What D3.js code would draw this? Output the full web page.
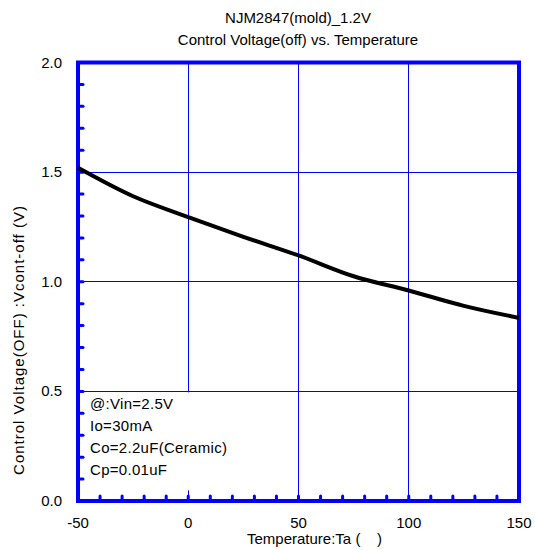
<!DOCTYPE html>
<html>
<head>
<meta charset="utf-8">
<script src="https://cdn.jsdelivr.net/npm/d3@7"></script>
<style>
body{margin:0;background:#fff;}
text{font-family:"Liberation Sans",Arial,sans-serif;fill:#000;}
</style>
</head>
<body>
<svg id="chart" width="535" height="550"></svg>
<script>
const titleLines = ["NJM2847(mold)_1.2V", "Control Voltage(off) vs. Temperature"];
const xLabel = "Temperature:Ta (    )";
const yLabel = "Control Voltage(OFF) :Vcont-off (V)";
const temperature = [-50, -25, 0, 25, 50, 75, 100, 125, 150];
const vcontOff = [1.52, 1.39, 1.295, 1.205, 1.12, 1.025, 0.96, 0.89, 0.835];
const xTicks = [-50, 0, 50, 100, 150];
const yTicks = [0.0, 0.5, 1.0, 1.5, 2.0];
const noteLines = ["@:Vin=2.5V", "Io=30mA", "Co=2.2uF(Ceramic)", "Cp=0.01uF"];

const svg = d3.select("#chart");
const L = 78, R = 519, T = 62.5, B = 501;
const x = d3.scaleLinear().domain([-50, 150]).range([L, R]);
const y = d3.scaleLinear().domain([0, 2]).range([B, T]);
const blue = "#0000ff";
const fs = 15;

// grid lines
svg.append("g").selectAll("line").data(xTicks.slice(1, -1)).join("line")
  .attr("x1", d => x(d)).attr("x2", d => x(d)).attr("y1", T).attr("y2", B)
  .attr("stroke", blue).attr("stroke-width", 1).attr("shape-rendering", "crispEdges");
svg.append("g").selectAll("line").data(yTicks.slice(1, -1)).join("line")
  .attr("x1", L).attr("x2", R).attr("y1", d => y(d)).attr("y2", d => y(d))
  .attr("stroke", blue).attr("stroke-width", 1).attr("shape-rendering", "crispEdges");

// note box (white, covers grid)
svg.append("rect").attr("x", L).attr("y", y(0.5) + 1).attr("width", 159).attr("height", 98).attr("fill", "#fff");
svg.append("g").selectAll("text").data(noteLines).join("text")
  .attr("x", 90).attr("y", (d, i) => y(0.5) + 18 + i * 21.8)
  .attr("font-size", fs).attr("letter-spacing", 0.3).text(d => d);

// minor ticks
const xMinor = d3.range(-40, 150, 10);
const yMinor = d3.range(0.1, 2.0, 0.1);
svg.append("g").selectAll("line").data(xMinor).join("line")
  .attr("x1", d => x(d)).attr("x2", d => x(d)).attr("y1", B).attr("y2", B - 5)
  .attr("stroke", blue).attr("stroke-width", 3).attr("stroke-linecap", "round");
svg.append("g").selectAll("line").data(yMinor).join("line")
  .attr("x1", L).attr("x2", L + 5).attr("y1", d => y(d)).attr("y2", d => y(d))
  .attr("stroke", blue).attr("stroke-width", 3).attr("stroke-linecap", "round");

// frame
svg.append("rect").attr("x", L).attr("y", T).attr("width", R - L).attr("height", B - T)
  .attr("fill", "none").attr("stroke", blue).attr("stroke-width", 4);

// data line
const line = d3.line().x((d, i) => x(temperature[i])).y(d => y(d)).curve(d3.curveMonotoneX);
svg.append("path").datum(vcontOff).attr("d", line)
  .attr("fill", "none").attr("stroke", "#000").attr("stroke-width", 4).attr("stroke-linejoin", "round");

// axes labels
svg.append("g").selectAll("text").data(xTicks).join("text")
  .attr("x", d => x(d)).attr("y", B + 27).attr("text-anchor", "middle")
  .attr("font-size", fs).text(d => d);
svg.append("g").selectAll("text").data(yTicks).join("text")
  .attr("x", 62).attr("y", d => y(d) + 5).attr("text-anchor", "end")
  .attr("font-size", fs).text(d => d.toFixed(1));

svg.append("text").attr("x", 247).attr("y", 544).attr("text-anchor", "start")
  .attr("font-size", fs).attr("xml:space", "preserve").style("white-space", "pre").text(xLabel);
svg.append("text").attr("transform", `translate(24,340) rotate(-90)`)
  .attr("text-anchor", "middle").attr("font-size", fs).attr("letter-spacing", 1).text(yLabel);

svg.append("g").selectAll("text").data(titleLines).join("text")
  .attr("x", 298).attr("y", (d, i) => 23 + i * 22).attr("text-anchor", "middle")
  .attr("font-size", fs).text(d => d);
</script>
</body>
</html>
